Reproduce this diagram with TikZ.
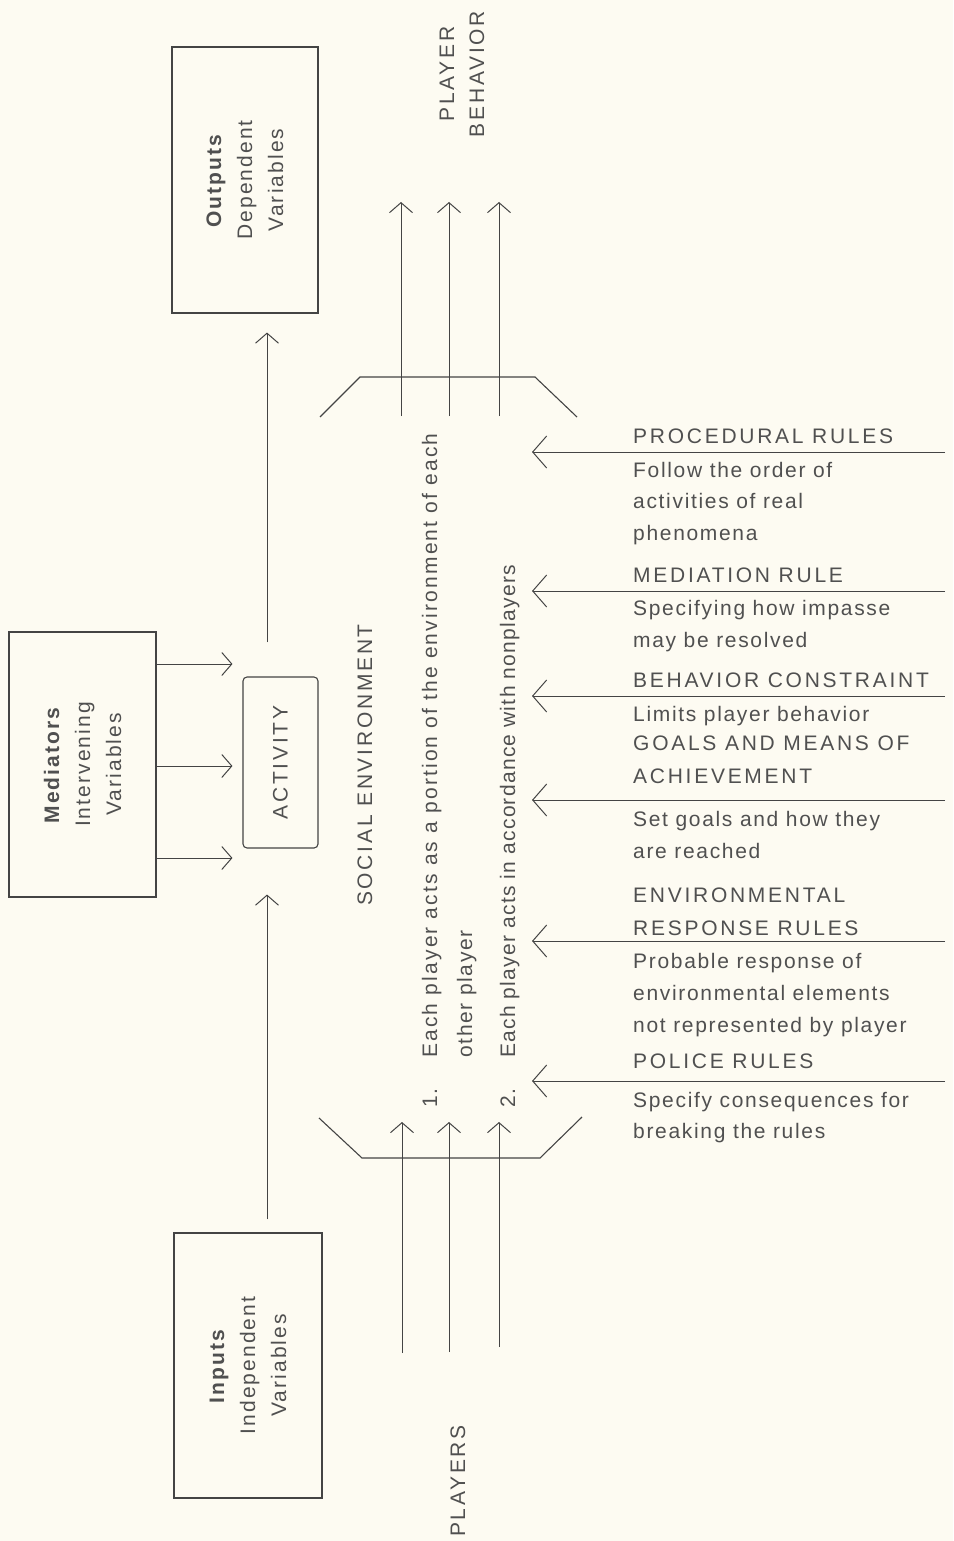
\documentclass[tikz,border=0pt]{standalone}
\usepackage{fontspec}
\setmainfont{Liberation Sans}[LetterSpace=10]
\newfontfamily\capsf{Liberation Sans}[LetterSpace=13]
\newfontfamily\descf{Liberation Sans}[LetterSpace=8]
\newfontfamily\widef{Liberation Sans}[LetterSpace=10.5]
\newfontfamily\narrowf{Liberation Sans}[LetterSpace=6]
\usetikzlibrary{arrows.meta}
\definecolor{paper}{RGB}{253,251,242}
\definecolor{ink}{RGB}{68,68,68}
\definecolor{type}{RGB}{80,80,80}

\begin{document}
\begin{tikzpicture}[x=1pt,y=-1pt,
  box/.style={draw=ink,line width=1.1pt,inner sep=0pt},
  vtext/.style={rotate=90,align=center,text=type,inner sep=0pt,
    font=\fontsize{21}{31}\selectfont},
  vline/.style={rotate=90,anchor=base west,text=type,inner sep=0pt,
    font=\fontsize{21}{31}\selectfont},
  rl/.style={anchor=base west,text=type,inner sep=0pt,
    font=\fontsize{21}{31}\selectfont\descf},
  rh/.style={rl,font=\fontsize{21}{31}\selectfont\capsf},
  arr/.style={draw=ink,line width=1pt,-{Straight Barb[length=10pt,width=23pt]}},
  rarr/.style={draw=ink,line width=1pt,-{Straight Barb[length=14pt,width=32pt]}},
  edge/.style={draw=ink,line width=1.1pt}]

\useasboundingbox[fill=paper] (0,0) rectangle (953,1541);

% --- boxes of the activity model ---
\node[box,minimum width=146pt,minimum height=266pt] (out) at (245,180) {};
\node[vtext] (outT) at (out.center) {\textbf{Outputs}\\Dependent\\Variables};

\node[box,minimum width=147pt,minimum height=265pt] (med) at (82.5,764.5) {};
\node[vtext] (medT) at (med.center) {\textbf{Mediators}\\Intervening\\Variables};

\node[box,rounded corners=4pt,minimum width=75pt,minimum height=171pt] (act) at (280.5,762.5) {};
\node[vtext,font=\fontsize{21}{31}\selectfont\capsf] (actT) at (act.center) {ACTIVITY};

\node[box,minimum width=148pt,minimum height=265pt] (inp) at (248,1365.5) {};
\node[vtext] (inpT) at (inp.center) {\textbf{Inputs}\\Independent\\Variables};

% flow axis and mediator levels
\coordinate (axis) at (267,0);
\coordinate (m1) at (0,664);
\coordinate (m2) at (0,766);
\coordinate (m3) at (0,858);

\draw[arr,shorten <=13pt,shorten >=46pt] (axis |- inp.north) -- (axis |- act.south);
\draw[arr,shorten <=34pt,shorten >=19pt] (axis |- act.north) -- (axis |- out.south);
\foreach \m in {m1,m2,m3}
  \draw[arr,shorten >=10pt] (med.east |- \m) -- (act.west |- \m);

% --- social environment funnel ---
\draw[edge] (320,417) -- (360,377) -- (535,377) -- (577,417);
\draw[edge] (319,1118) -- (362,1158) -- (540,1158) -- (582,1117);

\coordinate (pin1) at (402,1353);  \coordinate (pout1) at (402,1122);
\coordinate (pin2) at (449,1352);  \coordinate (pout2) at (449,1122);
\coordinate (pin3) at (499,1347);  \coordinate (pout3) at (499,1122);
\draw[arr] (pin1) -- (pout1);
\draw[arr] (pin2) -- (pout2);
\draw[arr] (pin3) -- (pout3);

\coordinate (bin1) at (401,416);  \coordinate (bout1) at (401,202);
\coordinate (bin2) at (449,416);  \coordinate (bout2) at (449,202);
\coordinate (bin3) at (499,416);  \coordinate (bout3) at (499,202);
\draw[arr] (bin1) -- (bout1);
\draw[arr] (bin2) -- (bout2);
\draw[arr] (bin3) -- (bout3);

\node[vtext,font=\fontsize{21}{30}\selectfont\capsf] (beh) at (462,74) {PLAYER\\BEHAVIOR};
\node[vtext,font=\fontsize{21}{31}\selectfont\capsf] (pl) at (458,1481) {PLAYERS};
\node[vtext,font=\fontsize{21}{31}\selectfont\capsf] (soc) at (365,765) {SOCIAL ENVIRONMENT};

\node[vline] (n1) at (437,1108) {1.};
\node[vline,font=\fontsize{21}{31}\selectfont\widef] (s1a) at (437,1058) {Each player acts as a portion of the environment of each};
\node[vline,font=\fontsize{21}{31}\selectfont\descf] (s1b) at (472,1058) {other player};
\node[vline] (n2) at (515,1108) {2.};
\node[vline,font=\fontsize{21}{31}\selectfont\narrowf] (s2) at (515,1058) {Each player acts in accordance with nonplayers};

% --- rules acting on the environment ---
\coordinate (tipx) at (532,0);
\coordinate (r1) at (945,452);
\coordinate (r2) at (945,591);
\coordinate (r3) at (945,696);
\coordinate (r4) at (945,800);
\coordinate (r5) at (945,941);
\coordinate (r6) at (945,1081);
\foreach \r in {r1,r2,r3,r4,r5,r6}
  \draw[rarr] (\r) -- (tipx |- \r);

\node[rh] (pr0) at (633,443) {PROCEDURAL RULES};
\node[rl] (pr1) at (633,477) {Follow the order of};
\node[rl] (pr2) at (633,508) {activities of real};
\node[rl] (pr3) at (633,540) {phenomena};

\node[rh] (md0) at (633,582) {MEDIATION RULE};
\node[rl] (md1) at (633,615) {Specifying how impasse};
\node[rl] (md2) at (633,647) {may be resolved};

\node[rh] (bc0) at (633,687) {BEHAVIOR CONSTRAINT};
\node[rl] (bc1) at (633,721) {Limits player behavior};

\node[rh] (gm0) at (633,750) {GOALS AND MEANS OF};
\node[rh] (gm1) at (633,783) {ACHIEVEMENT};
\node[rl] (gm2) at (633,826) {Set goals and how they};
\node[rl] (gm3) at (633,858) {are reached};

\node[rh] (er0) at (633,902) {ENVIRONMENTAL};
\node[rh] (er1) at (633,935) {RESPONSE RULES};
\node[rl] (er2) at (633,968) {Probable response of};
\node[rl] (er3) at (633,1000) {environmental elements};
\node[rl] (er4) at (633,1032) {not represented by player};

\node[rh] (po0) at (633,1068) {POLICE RULES};
\node[rl] (po1) at (633,1107) {Specify consequences for};
\node[rl] (po2) at (633,1138) {breaking the rules};
\end{tikzpicture}
\end{document}
